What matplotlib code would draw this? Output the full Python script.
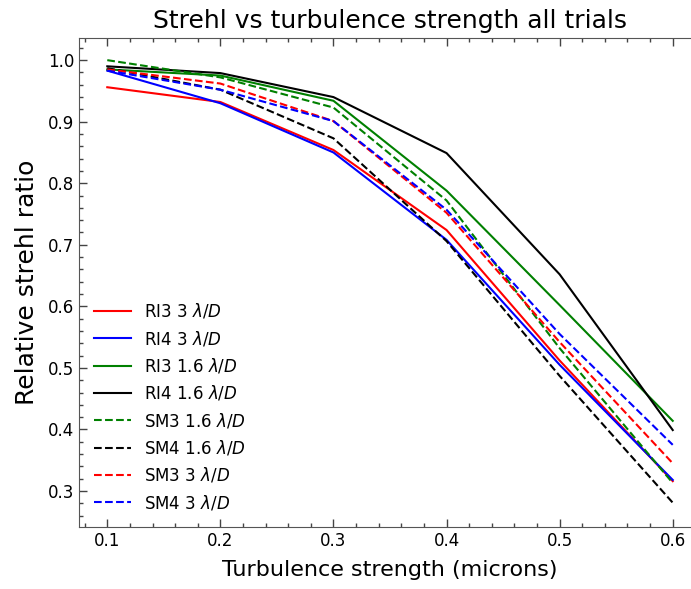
import numpy as np
import matplotlib
matplotlib.use("Agg")
import matplotlib.pyplot as plt

plt.rcParams['font.family'] = ['DejaVu Sans']
plt.rcParams['mathtext.fontset'] = 'dejavusans'

# turbulence strength (microns)
turb = [0.1, 0.2, 0.3, 0.4, 0.5, 0.6]

# relative strehl ratio per trial
ri3_3 = [0.956, 0.932, 0.854, 0.724, 0.512, 0.316]
ri4_3 = [0.983, 0.930, 0.850, 0.708, 0.505, 0.318]
ri3_16 = [0.985, 0.975, 0.934, 0.788, 0.602, 0.414]
ri4_16 = [0.990, 0.979, 0.940, 0.849, 0.652, 0.399]
sm3_16 = [1.000, 0.972, 0.923, 0.772, 0.532, 0.313]
sm4_16 = [0.987, 0.952, 0.873, 0.706, 0.487, 0.281]
sm3_3 = [0.985, 0.962, 0.901, 0.752, 0.542, 0.345]
sm4_3 = [0.983, 0.952, 0.901, 0.757, 0.555, 0.375]

series = [
    (ri3_3, 'r', '-', r'RI3 3 $\lambda/D$'),
    (ri4_3, 'b', '-', r'RI4 3 $\lambda/D$'),
    (ri3_16, 'g', '-', r'RI3 1.6 $\lambda/D$'),
    (ri4_16, 'k', '-', r'RI4 1.6 $\lambda/D$'),
    (sm3_16, 'g', '--', r'SM3 1.6 $\lambda/D$'),
    (sm4_16, 'k', '--', r'SM4 1.6 $\lambda/D$'),
    (sm3_3, 'r', '--', r'SM3 3 $\lambda/D$'),
    (sm4_3, 'b', '--', r'SM4 3 $\lambda/D$'),
]

fig = plt.figure(figsize=(6.91, 5.89), dpi=100)
# right edge of the axes falls just outside the saved picture, as in the original
ax = fig.add_axes([79 / 691, 1 - 527 / 589, 622 / 691, 489 / 589])

for vals, c, ls, lab in series:
    ax.plot(turb, vals, color=c, linestyle=ls, linewidth=1.5, label=lab)

ax.set_xlim(0.075, 0.625)
ax.set_ylim(0.2415, 1.036)
ax.set_xticks([0.1, 0.2, 0.3, 0.4, 0.5, 0.6])
ax.set_yticks([0.3, 0.4, 0.5, 0.6, 0.7, 0.8, 0.9, 1.0])
ax.xaxis.set_minor_locator(matplotlib.ticker.MultipleLocator(0.02))
ax.yaxis.set_minor_locator(matplotlib.ticker.MultipleLocator(0.02))
ax.tick_params(which='both', direction='in', top=True, right=False,
               colors='#444444', labelcolor='black', labelsize=12)
ax.tick_params(which='major', length=6, width=1)
ax.tick_params(which='minor', length=3, width=1)
for s in ax.spines.values():
    s.set_color('#555555')
ax.spines['right'].set_visible(False)

ax.set_xlabel('Turbulence strength (microns)', fontsize=16, labelpad=7)
ax.set_ylabel('Relative strehl ratio', fontsize=18, labelpad=6)
ax.set_title('Strehl vs turbulence strength all trials', fontsize=18, pad=7)

ax.legend(loc='lower left', frameon=False, fontsize=12, handlelength=2.2,
          labelspacing=0.5, borderaxespad=0.5, handletextpad=0.8)

fig.savefig('out.png', dpi=100)
